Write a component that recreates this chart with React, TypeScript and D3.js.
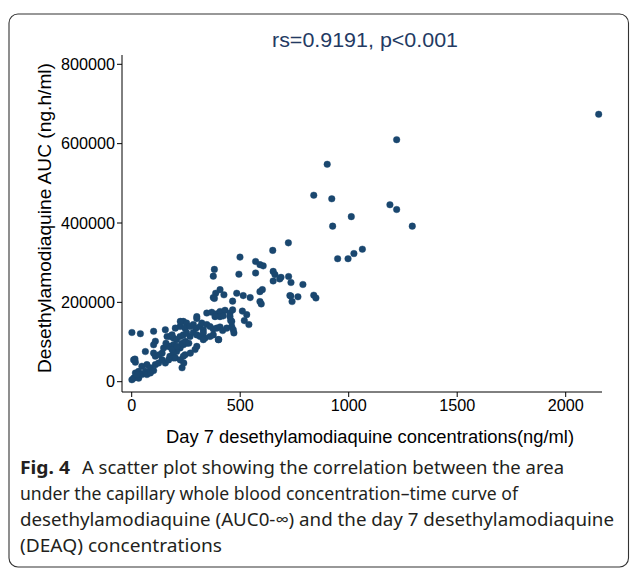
import React from "react";
import * as d3 from "d3";

// Day 7 DEAQ concentration (ng/ml), AUC (ng.h/ml)
const concentrations: number[] = [
  2152, 1221, 901, 839, 922, 1190, 1221, 1012, 926, 1293, 722, 949, 997, 1024, 1063, 650, 499, 571, 591, 606,
  381, 376, 494, 571, 652, 660, 688, 682, 652, 723, 734, 789, 733, 766, 839, 849, 739, 729, 407, 387,
  425, 376, 381, 484, 514, 546, 591, 602, 591, 597, 465, 510, 530, 519, 540, 456, 401,
  346, 369, 392, 407, 430, 453, 465, 300, 238, 253, 223, 246, 269, 284, 296, 315, 323, 330, 346, 361,
  376, 392, 407, 419, 438, 461, 461, 468, 471, 176, 192, 207, 223, 238, 253, 269, 284, 300, 315, 330,
  338, 361, 376, 399, 238, 253, 223, 207, 176, 192, 192, 292, 246, 238, 176, 192,
  300, 330, 407, 422, 453, 384, 300,
  1, 40, 101, 155, 163, 186, 201, 224, 109, 101, 63, 9, 17, 101, 109, 140, 147, 170, 186, 209,
  232, 247, 263, 155, 170, 201, 224, 270, 240, 232, 47, 70, 86, 101, 109, 124, 140, 17, 32, 9,
  1, 32, 47, 63, 24, 70, 86, 127, 158, 15
];
const aucValues: number[] = [
  674000, 610000, 548000, 470000, 461000, 446000, 434000, 416000, 392000, 392000, 350000, 310000, 310000, 323000, 334000, 331000, 314000, 303000, 295000, 292000,
  283000, 266000, 271000, 274000, 278000, 270000, 263000, 259000, 254000, 265000, 250000, 245000, 216000, 214000, 218000, 211000, 202000, 217000, 232000, 223000,
  219000, 212000, 210000, 223000, 217000, 212000, 227000, 232000, 202000, 196000, 203000, 178000, 169000, 154000, 144000, 154000, 106000,
  173000, 175000, 171000, 177000, 180000, 173000, 181000, 164000, 152000, 148000, 139000, 135000, 139000, 144000, 135000, 139000, 148000, 131000, 144000, 139000,
  133000, 135000, 138000, 129000, 135000, 139000, 152000, 131000, 123000, 114000, 110000, 106000, 114000, 118000, 123000, 114000, 124000, 118000, 114000, 123000,
  110000, 114000, 118000, 106000, 93000, 97000, 85000, 76000, 89000, 93000, 72000, 81000, 68000, 64000, 64000, 60000,
  89000, 106000, 164000, 166000, 164000, 164000, 159000,
  124000, 121000, 127000, 131000, 114000, 118000, 135000, 152000, 102000, 93000, 76000, 55000, 49000, 72000, 64000, 72000, 85000, 89000, 81000, 89000,
  97000, 102000, 97000, 47000, 55000, 60000, 55000, 72000, 47000, 35000, 39000, 43000, 35000, 28000, 43000, 47000, 55000, 22000, 26000, 9000,
  5000, 9000, 18000, 26000, 18000, 18000, 22000, 68000, 97000, 57000
];

const xTicks: number[] = [0, 500, 1000, 1500, 2000];
const yTicks: number[] = [0, 200000, 400000, 600000, 800000];

const titleText = "rs=0.9191, p<0.001";
const xTitle = "Day 7 desethylamodiaquine concentrations(ng/ml)";
const yTitle = "Desethylamodiaquine AUC (ng.h/ml)";
const captionBold = "Fig. 4";
const captionLines: string[] = [
  "A scatter plot showing the correlation between the area",
  "under the capillary whole blood concentration\u2013time curve of",
  "desethylamodiaquine (AUC0-\u221E) and the day 7 desethylamodiaquine",
  "(DEAQ) concentrations",
];

const W = 630;
const H = 569;
const FONT = "'Liberation Sans', Arial, sans-serif";
const CAP_FONT = "'Noto Sans', 'Open Sans', sans-serif";
const DOT = "#1a476f";

export default function App() {
  const x = d3.scaleLinear().domain([0, 2000]).range([131.7, 565.7]);
  const y = d3.scaleLinear().domain([0, 800000]).range([381.7, 64.3]);
  const axisY = 392;
  const axisX = 122;
  const points = concentrations.map((c, i) => [c, aucValues[i]] as [number, number]);

  const capWidths = [482, 498, 594, 202];
  const capX = [82, 20, 20, 20];

  return (
    <svg
      width={W}
      height={H}
      viewBox={`0 0 ${W} ${H}`}
      style={{ position: "absolute", left: 0, top: 0, display: "block", background: "#fff" }}
    >
      <rect x={9} y={14} width={619.5} height={553} rx={9} ry={9} fill="#fff" stroke="#333" strokeWidth={1.1} />

      <text x={365} y={47} textAnchor="middle" fontFamily={FONT} fontSize={21} fill="#233a63"
        textLength={186} lengthAdjust="spacingAndGlyphs">{titleText}</text>

      {/* axes */}
      <line x1={axisX} x2={axisX} y1={55} y2={axisY} stroke="#000" strokeWidth={1} />
      <line x1={axisX} x2={602} y1={axisY} y2={axisY} stroke="#000" strokeWidth={1} />

      {yTicks.map((t) => (
        <g key={"y" + t}>
          <line x1={axisX - 5} x2={axisX} y1={y(t)} y2={y(t)} stroke="#000" strokeWidth={1} />
          <text x={115} y={y(t) + 5.5} textAnchor="end" fontFamily={FONT} fontSize={16.2} fill="#000">
            {String(t)}
          </text>
        </g>
      ))}
      {xTicks.map((t) => (
        <g key={"x" + t}>
          <line x1={x(t)} x2={x(t)} y1={axisY} y2={axisY + 5} stroke="#000" strokeWidth={1} />
          <text x={x(t)} y={411} textAnchor="middle" fontFamily={FONT} fontSize={16.2} fill="#000">
            {String(t)}
          </text>
        </g>
      ))}

      <text x={370} y={443} textAnchor="middle" fontFamily={FONT} fontSize={17.5} fill="#000"
        textLength={408} lengthAdjust="spacingAndGlyphs">{xTitle}</text>
      <text transform={`translate(51,218) rotate(-90)`} textAnchor="middle" fontFamily={FONT} fontSize={17.5}
        fill="#000" textLength={310} lengthAdjust="spacingAndGlyphs">{yTitle}</text>

      {points.map((p, i) => (
        <circle key={i} cx={x(p[0])} cy={y(p[1])} r={3.3} fill={DOT} stroke={DOT} strokeWidth={0.4} />
      ))}

      {/* caption */}
      <text x={20} y={474} fontFamily={CAP_FONT} fontSize={18} fontWeight={700} fill="#231f20"
        textLength={50} lengthAdjust="spacingAndGlyphs">{captionBold}</text>
      {captionLines.map((line, i) => (
        <text key={i} x={capX[i]} y={474 + i * 26} fontFamily={CAP_FONT} fontSize={18} fill="#231f20"
          textLength={capWidths[i]} lengthAdjust="spacingAndGlyphs">{line}</text>
      ))}
    </svg>
  );
}
